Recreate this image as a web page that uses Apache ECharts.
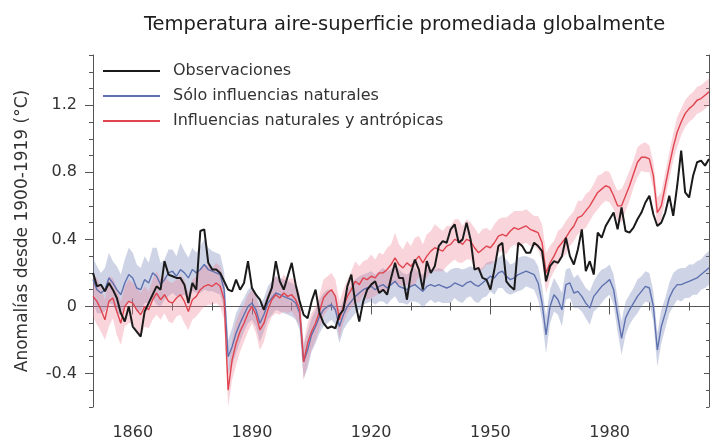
<!DOCTYPE html>
<html>
<head>
<meta charset="UTF-8">
<title>Temperatura aire-superficie promediada globalmente</title>
<script src="https://cdn.jsdelivr.net/npm/echarts@6/dist/echarts.min.js"></script>
<style>
  html, body { margin: 0; padding: 0; background: #fff; }
  #main { width: 713px; height: 441px; }
</style>
</head>
<body>
<div id="main"></div>
<script>
// anos 1850-2005, un valor por ano
var startYear = 1850;

// Observaciones (negro)
var observaciones = [
  0.20, 0.12, 0.13, 0.09, 0.14, 0.10, 0.05, -0.04, -0.09, 0.00,
  -0.12, -0.15, -0.18, -0.03, 0.02, 0.07, 0.12, 0.10, 0.27, 0.19,
  0.18, 0.17, 0.17, 0.13, 0.02, 0.14, 0.10, 0.45, 0.46, 0.26,
  0.22, 0.22, 0.20, 0.15, 0.10, 0.09, 0.16, 0.10, 0.14, 0.27,
  0.11, 0.07, 0.04, -0.02, 0.05, 0.11, 0.27, 0.15, 0.10, 0.18,
  0.26, 0.13, 0.03, -0.05, -0.07, 0.03, 0.10, -0.04, -0.10, -0.13,
  -0.12, -0.13, -0.05, -0.02, 0.12, 0.19, 0.02, -0.09, 0.03, 0.10,
  0.13, 0.15, 0.08, 0.10, 0.07, 0.17, 0.26, 0.17, 0.17, 0.04,
  0.20, 0.28, 0.22, 0.10, 0.27, 0.20, 0.24, 0.36, 0.39, 0.38,
  0.46, 0.49, 0.38, 0.40, 0.50, 0.40, 0.22, 0.23, 0.17, 0.16,
  0.10, 0.22, 0.36, 0.38, 0.15, 0.12, 0.10, 0.38, 0.36, 0.32,
  0.32, 0.38, 0.36, 0.33, 0.15, 0.24, 0.27, 0.26, 0.30, 0.41,
  0.30, 0.25, 0.34, 0.46, 0.21, 0.27, 0.19, 0.44, 0.41, 0.48,
  0.52, 0.56, 0.46, 0.59, 0.45, 0.44, 0.47, 0.52, 0.56, 0.62,
  0.66, 0.55, 0.48, 0.50, 0.56, 0.66, 0.54, 0.72, 0.93, 0.68,
  0.65, 0.78, 0.86, 0.87, 0.84, 0.88
];

// Solo influencias naturales (azul)
var naturales = [
  0.16, 0.10, 0.08, 0.10, 0.17, 0.14, 0.10, 0.07, 0.14, 0.19,
  0.17, 0.11, 0.10, 0.16, 0.14, 0.20, 0.18, 0.13, 0.16, 0.20,
  0.21, 0.18, 0.22, 0.20, 0.17, 0.22, 0.20, 0.22, 0.25, 0.22,
  0.21, 0.20, 0.19, 0.10, -0.30, -0.24, -0.16, -0.10, -0.05, 0.00,
  0.02, -0.02, -0.10, -0.05, 0.02, 0.05, 0.08, 0.07, 0.06, 0.05,
  0.04, 0.02, -0.04, -0.33, -0.26, -0.17, -0.12, -0.06, -0.02, 0.00,
  0.01, -0.02, -0.12, -0.05, 0.00, 0.03, 0.06, 0.08, 0.10, 0.11,
  0.12, 0.10, 0.12, 0.13, 0.11, 0.13, 0.15, 0.12, 0.11, 0.10,
  0.12, 0.13, 0.11, 0.09, 0.12, 0.13, 0.12, 0.13, 0.12, 0.11,
  0.12, 0.14, 0.13, 0.12, 0.14, 0.15, 0.13, 0.12, 0.14, 0.16,
  0.18, 0.17, 0.20, 0.21, 0.18, 0.16, 0.17, 0.19, 0.20, 0.21,
  0.20, 0.19, 0.14, 0.02, -0.17, 0.00, 0.07, 0.04, -0.02, 0.13,
  0.14, 0.08, 0.09, 0.06, 0.02, -0.01, 0.06, 0.09, 0.12, 0.14,
  0.16, 0.10, -0.05, -0.19, -0.07, -0.02, 0.02, 0.06, 0.09, 0.12,
  0.11, 0.00, -0.26, -0.12, -0.04, 0.05, 0.10, 0.13, 0.13, 0.14,
  0.15, 0.16, 0.17, 0.19, 0.21, 0.23
];
var naturalesSpread = [
  0.13, 0.14, 0.12, 0.13, 0.15, 0.13, 0.14, 0.12, 0.14, 0.16,
  0.15, 0.14, 0.13, 0.14, 0.12, 0.15, 0.17, 0.13, 0.12, 0.14,
  0.13, 0.12, 0.16, 0.13, 0.12, 0.13, 0.12, 0.14, 0.15, 0.13,
  0.12, 0.12, 0.12, 0.11, 0.10, 0.11, 0.12, 0.11, 0.10, 0.10,
  0.10, 0.10, 0.11, 0.10, 0.10, 0.10, 0.10, 0.10, 0.10, 0.10,
  0.10, 0.10, 0.10, 0.10, 0.11, 0.10, 0.10, 0.10, 0.10, 0.10,
  0.09, 0.09, 0.10, 0.09, 0.10, 0.10, 0.10, 0.10, 0.09, 0.09,
  0.09, 0.09, 0.09, 0.10, 0.10, 0.09, 0.09, 0.10, 0.09, 0.09,
  0.09, 0.10, 0.09, 0.10, 0.10, 0.09, 0.10, 0.10, 0.10, 0.09,
  0.10, 0.09, 0.10, 0.10, 0.09, 0.09, 0.10, 0.10, 0.09, 0.10,
  0.09, 0.10, 0.09, 0.10, 0.10, 0.09, 0.09, 0.10, 0.10, 0.09,
  0.09, 0.09, 0.10, 0.10, 0.11, 0.10, 0.10, 0.09, 0.10, 0.09,
  0.09, 0.09, 0.10, 0.09, 0.09, 0.10, 0.09, 0.10, 0.10, 0.09,
  0.09, 0.09, 0.10, 0.10, 0.10, 0.09, 0.09, 0.10, 0.09, 0.09,
  0.09, 0.09, 0.10, 0.10, 0.09, 0.09, 0.10, 0.09, 0.10, 0.09,
  0.10, 0.09, 0.10, 0.09, 0.10, 0.10
];

// Influencias naturales y antropicas (rojo)
var antropicas = [
  0.06, 0.03, -0.02, -0.08, 0.03, 0.05, -0.03, -0.10, 0.00, 0.03,
  0.02, -0.02, -0.05, 0.00, -0.02, 0.04, 0.08, 0.04, 0.07, 0.03,
  0.02, 0.05, 0.07, 0.03, -0.03, 0.04, 0.06, 0.10, 0.12, 0.13,
  0.12, 0.14, 0.12, 0.04, -0.50, -0.32, -0.22, -0.15, -0.10, -0.04,
  0.00, -0.05, -0.14, -0.10, -0.02, 0.04, 0.07, 0.05, 0.08, 0.06,
  0.07, 0.04, -0.02, -0.33, -0.22, -0.15, -0.10, -0.03, 0.05, 0.08,
  0.10, 0.06, -0.08, 0.00, 0.06, 0.10, 0.15, 0.13, 0.17, 0.16,
  0.18, 0.17, 0.20, 0.20, 0.22, 0.25, 0.29, 0.25, 0.23, 0.26,
  0.24, 0.27, 0.30, 0.26, 0.30, 0.33, 0.35, 0.34, 0.33, 0.36,
  0.37, 0.40, 0.39, 0.37, 0.40, 0.39, 0.35, 0.32, 0.34, 0.36,
  0.35, 0.38, 0.42, 0.43, 0.42, 0.45, 0.47, 0.46, 0.47, 0.48,
  0.46, 0.45, 0.44, 0.38, 0.20, 0.26, 0.30, 0.35, 0.38, 0.41,
  0.45, 0.48, 0.53, 0.54, 0.57, 0.60, 0.64, 0.68, 0.70, 0.72,
  0.71, 0.66, 0.60, 0.60, 0.66, 0.72, 0.79, 0.86, 0.89, 0.89,
  0.88, 0.78, 0.56, 0.60, 0.72, 0.84, 0.95, 1.04, 1.10, 1.15,
  1.18, 1.20, 1.23, 1.24, 1.26, 1.28
];
var antropicasSpread = [
  0.12, 0.14, 0.13, 0.12, 0.15, 0.12, 0.14, 0.13, 0.12, 0.13,
  0.12, 0.14, 0.13, 0.12, 0.11, 0.12, 0.13, 0.12, 0.11, 0.12,
  0.12, 0.11, 0.12, 0.13, 0.11, 0.12, 0.12, 0.13, 0.12, 0.12,
  0.11, 0.12, 0.12, 0.12, 0.10, 0.12, 0.13, 0.12, 0.11, 0.11,
  0.10, 0.11, 0.12, 0.11, 0.10, 0.10, 0.11, 0.10, 0.11, 0.10,
  0.10, 0.11, 0.10, 0.11, 0.12, 0.11, 0.10, 0.10, 0.11, 0.10,
  0.10, 0.10, 0.11, 0.10, 0.10, 0.11, 0.12, 0.11, 0.10, 0.12,
  0.13, 0.11, 0.12, 0.11, 0.13, 0.12, 0.15, 0.12, 0.11, 0.13,
  0.12, 0.14, 0.12, 0.11, 0.13, 0.12, 0.14, 0.13, 0.12, 0.12,
  0.11, 0.12, 0.13, 0.11, 0.12, 0.11, 0.12, 0.11, 0.12, 0.11,
  0.10, 0.11, 0.10, 0.10, 0.11, 0.10, 0.10, 0.11, 0.10, 0.10,
  0.10, 0.09, 0.10, 0.11, 0.12, 0.10, 0.09, 0.10, 0.09, 0.10,
  0.09, 0.09, 0.10, 0.09, 0.10, 0.09, 0.09, 0.10, 0.09, 0.09,
  0.09, 0.08, 0.09, 0.10, 0.09, 0.09, 0.08, 0.09, 0.08, 0.09,
  0.08, 0.08, 0.09, 0.08, 0.08, 0.08, 0.08, 0.09, 0.08, 0.08,
  0.08, 0.08, 0.08, 0.08, 0.08, 0.08
];

var xLabelYears = [1860, 1890, 1920, 1950, 1980];
var xMinorYears = [1850, 1860, 1870, 1880, 1890, 1900, 1910, 1920, 1930, 1940, 1950, 1960, 1970, 1980, 1990, 2000];
var yLabelValues = [-0.4, 0, 0.4, 0.8, 1.2];

var FONT = 'DejaVu Sans';
var AXIS_COLOR = '#555';
var TEXT_COLOR = '#333';

function pairs(arr) {
  var out = [];
  for (var i = 0; i < arr.length; i++) out.push([startYear + i, arr[i]]);
  return out;
}
function bandData(mean, spread) {
  var out = [];
  for (var i = 0; i < mean.length; i++) {
    out.push([startYear + i, +(mean[i] - spread[i]).toFixed(3), +(mean[i] + spread[i]).toFixed(3)]);
  }
  return out;
}
// dibuja la banda entera como un poligono (solo en el primer elemento)
function bandRenderer(band, fill) {
  return function (params, api) {
    if (params.dataIndex !== 0) return null;
    var upper = [], lower = [];
    for (var i = 0; i < band.length; i++) {
      upper.push(api.coord([band[i][0], band[i][2]]));
      lower.unshift(api.coord([band[i][0], band[i][1]]));
    }
    return {
      type: 'polygon',
      silent: true,
      shape: { points: upper.concat(lower) },
      style: { fill: fill }
    };
  };
}

var natBand = bandData(naturales, naturalesSpread);
var antBand = bandData(antropicas, antropicasSpread);

var xBase = { type: 'value', min: 1850, max: 2005, splitLine: { show: false } };
var yBase = { type: 'value', min: -0.6, max: 1.5, splitLine: { show: false } };

var myChart = echarts.init(document.getElementById('main'));
var option = {
  animation: false,
  backgroundColor: '#fff',
  title: {
    text: 'Temperatura aire-superficie promediada globalmente',
    left: 139,
    top: 10,
    textStyle: { fontFamily: FONT, fontSize: 19.5, fontWeight: 'normal', color: '#1e1e1e' }
  },
  legend: {
    orient: 'vertical',
    left: 103,
    top: 63,
    padding: 0,
    itemWidth: 57,
    itemHeight: 2,
    itemGap: 9,
    icon: 'rect',
    data: ['Observaciones', 'Sólo influencias naturales', 'Influencias naturales y antrópicas'],
    textStyle: { fontFamily: FONT, fontSize: 16, color: TEXT_COLOR, padding: [0, 0, 0, 8] }
  },
  grid: { left: 93, right: 4, top: 55, bottom: 34, outerBoundsMode: 'none' },
  xAxis: [
    Object.assign({}, xBase, {
      position: 'bottom',
      axisLine: { show: true, lineStyle: { color: AXIS_COLOR } },
      axisTick: { show: true, customValues: xLabelYears, length: 8, lineStyle: { color: AXIS_COLOR } },
      axisLabel: {
        customValues: xLabelYears, margin: 18, fontFamily: FONT, fontSize: 16, color: TEXT_COLOR,
        formatter: function (v) { return String(v); }
      }
    }),
    Object.assign({}, xBase, {
      position: 'bottom',
      axisLine: { show: false },
      axisTick: { show: true, customValues: xMinorYears, length: 4, lineStyle: { color: AXIS_COLOR } },
      axisLabel: { show: false }
    }),
    Object.assign({}, xBase, {
      position: 'top',
      axisLine: { show: true, lineStyle: { color: AXIS_COLOR } },
      axisTick: { show: true, customValues: xLabelYears, length: 8, lineStyle: { color: AXIS_COLOR } },
      axisLabel: { show: false }
    }),
    Object.assign({}, xBase, {
      position: 'top',
      axisLine: { show: false },
      axisTick: { show: true, customValues: xMinorYears, length: 4, lineStyle: { color: AXIS_COLOR } },
      axisLabel: { show: false }
    })
  ],
  yAxis: [
    Object.assign({}, yBase, {
      position: 'left',
      name: 'Anomalías desde 1900-1919 (°C)',
      nameLocation: 'middle',
      nameGap: 62,
      nameTextStyle: { fontFamily: FONT, fontSize: 17, color: TEXT_COLOR },
      axisLine: { show: true, lineStyle: { color: AXIS_COLOR } },
      axisTick: { show: true, customValues: yLabelValues, length: 8, lineStyle: { color: AXIS_COLOR } },
      axisLabel: {
        customValues: yLabelValues, margin: 16, fontFamily: FONT, fontSize: 16, color: TEXT_COLOR,
        formatter: function (v) { return v === 0 ? '0' : v.toFixed(1); }
      }
    }),
    Object.assign({}, yBase, {
      position: 'left',
      interval: 0.1,
      axisLine: { show: false },
      axisTick: { show: true, length: 4, lineStyle: { color: AXIS_COLOR } },
      axisLabel: { show: false }
    }),
    Object.assign({}, yBase, {
      position: 'right',
      axisLine: { show: true, lineStyle: { color: AXIS_COLOR } },
      axisTick: { show: true, inside: true, customValues: yLabelValues, length: 5, lineStyle: { color: AXIS_COLOR } },
      axisLabel: { show: false }
    }),
    Object.assign({}, yBase, {
      position: 'right',
      interval: 0.1,
      axisLine: { show: false },
      axisTick: { show: true, inside: true, length: 3, lineStyle: { color: AXIS_COLOR } },
      axisLabel: { show: false }
    })
  ],
  series: [
    {
      name: 'banda-naturales', type: 'custom', silent: true, clip: true, z: 1,
      data: natBand, encode: { x: 0, y: [1, 2] },
      renderItem: bandRenderer(natBand, 'rgba(118, 134, 186, 0.36)')
    },
    {
      name: 'banda-antropicas', type: 'custom', silent: true, clip: true, z: 1,
      data: antBand, encode: { x: 0, y: [1, 2] },
      renderItem: bandRenderer(antBand, 'rgba(238, 128, 150, 0.34)')
    },
    {
      name: 'Sólo influencias naturales', type: 'line', showSymbol: false,
      data: pairs(naturales), color: '#5f72b0',
      lineStyle: { width: 1.4, color: '#5f72b0' }, z: 3
    },
    {
      name: 'Influencias naturales y antrópicas', type: 'line', showSymbol: false,
      data: pairs(antropicas), color: '#e0444f',
      lineStyle: { width: 1.4, color: '#e0444f' }, z: 3
    },
    {
      name: 'Observaciones', type: 'line', showSymbol: false,
      data: pairs(observaciones), color: '#1a1a1a',
      lineStyle: { width: 2, color: '#1a1a1a' }, z: 4
    }
  ]
};
myChart.setOption(option);
</script>
</body>
</html>
